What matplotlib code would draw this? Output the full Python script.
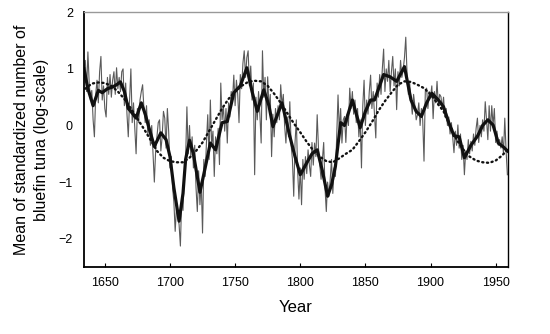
import matplotlib
matplotlib.use("Agg")
import matplotlib.pyplot as plt
import numpy as np

plt.rcParams['font.family'] = ['Liberation Sans', 'DejaVu Sans']

# annual values, one row per decade starting 1634
annual = [
    0.95, 1.15, 0.6, 1.3, 0.75, 0.45, 0.62, 0.1, -0.2, 0.55,
    0.8, 0.4, 0.95, 1.22, 0.45, 0.7, 0.3, 0.15, 0.85, 0.55,
    0.9, 0.5, 0.8, 0.95, 0.55, 1.02, 0.65, 0.85, 0.6, 0.95,
    1.0, 0.35, 0.75, 0.2, -0.2, 0.45, 1.0, 0.05, 0.4, -0.05,
    -0.5, 0.3, 0.05, 0.45, 0.6, 0.72, 0.3, 0.05, 0.35, -0.15,
    0.1, -0.35, 0.0, -0.5, -1.0, -0.45, -0.2, 0.05, 0.1, -0.45,
    -0.2, 0.25, 0.13, -0.4, 0.3, -0.1, -0.75, -0.55, -1.1, -1.35,
    -1.87, -1.45, -1.6, -1.75, -2.13, -1.3, -1.5, -0.85, -0.6, 0.33,
    -0.5, 0.0, -0.55, -0.2, -0.75, -0.35, -1.1, -1.52, -0.8, -1.4,
    -1.0, -1.9, -0.6, -0.9, -0.3, 0.19, -0.6, 0.45, -0.35, -0.1,
    -0.9, -0.2, -0.5, -0.05, -0.69, 0.75, 0.1, 0.35, -0.1, 0.3,
    -0.31, 0.4, 0.15, 0.6, 0.45, 0.89, 0.35, 0.8, 0.55, 0.05,
    0.9, 0.65, 1.1, 1.32, 0.85, 1.2, 1.32, 0.7, 1.05, 0.45,
    0.75, -0.87, 0.5, 0.1, 0.6, 0.2, -0.31, 1.32, 0.5, 0.85,
    0.1, 0.86, 0.3, 0.55, -0.55, 0.2, -0.2, 0.3, 0.05, 0.35,
    0.1, 0.72, 0.35, 0.55, 0.0, -0.31, 0.15, -0.2, 0.42, -0.35,
    -0.6, -1.25, -0.3, 0.1, -0.8, -1.3, -0.75, -1.4, -0.6, -0.95,
    -0.55, -0.85, -0.43, -0.7, -0.9, -0.3, -0.7, -0.31, -0.55, 0.19,
    -0.4, -0.7, -0.95, -0.6, -0.3, -1.1, -1.52, -1.0, -1.25, -0.95,
    -0.6, -1.2, -0.75, -0.9, -0.2, 0.54, -0.1, 0.3, -0.31, 0.1,
    0.16, -0.3, 0.2, 0.0, 0.66, 0.3, 0.6, 0.2, 0.45, 0.05,
    0.3, -0.2, 0.1, -0.75, 0.35, 0.8, 0.0, 0.45, 0.2, 0.6,
    0.89, 0.3, 0.6, 0.2, -0.22, 0.75, 0.5, 0.9, 0.55, 1.0,
    1.35, 0.6, 1.0, 0.78, 1.15, 0.6, 0.95, 1.22, 0.7, 1.0,
    0.28, 0.95, 0.7, 1.15, 0.85, 0.98, 1.2, 1.56, 0.9, 0.55,
    0.75, 0.45, 0.2, 0.55, 0.35, 0.1, 0.19, 0.4, 0.0, 0.3,
    0.1, -0.63, 0.6, 0.66, 0.3, 0.6, 0.5, 0.7, 0.12, 0.6,
    0.4, 0.78, 0.35, 0.55, 0.51, 0.3, 0.5, 0.15, 0.3, 0.0,
    0.15, -0.15, 0.05, -0.2, -0.48, -0.1, -0.35, 0.01, -0.4, -0.15,
    -0.6, -0.35, -0.87, -0.45, -0.6, -0.25, -0.5, -0.28, -0.45, -0.15,
    -0.35, -0.05, 0.13, -0.3, 0.0, -0.2, 0.1, -0.1, 0.42, 0.1,
    -0.25, 0.35, -0.1, 0.35, 0.0, 0.3, -0.3, -0.1, -0.35, -0.25,
    -0.4, -0.2, -0.5, 0.13, -0.45, -0.87,
]
years = np.arange(1634, 1634 + len(annual))

# smoothed series (key points)
smooth_years = [1634, 1637, 1641, 1645, 1648, 1652, 1656, 1659, 1662, 1665,
                1668, 1671, 1674, 1678, 1681, 1684, 1688, 1693, 1697, 1700,
                1703, 1707, 1710, 1712, 1715, 1718, 1723, 1727, 1731, 1735,
                1740, 1744, 1749, 1754, 1759, 1763, 1767, 1772, 1776, 1779,
                1786, 1792, 1796, 1800, 1805, 1809, 1813, 1817, 1821, 1824,
                1827, 1831, 1834, 1840, 1846, 1850, 1854, 1857, 1864, 1869,
                1874, 1880, 1885, 1889, 1893, 1897, 1901, 1906, 1910, 1914,
                1918, 1922, 1926, 1931, 1936, 1940, 1944, 1948, 1952, 1956, 1959]
smooth_vals = [1.0, 0.65, 0.35, 0.62, 0.58, 0.65, 0.68, 0.72, 0.77, 0.6,
               0.3, 0.22, 0.13, 0.4, 0.2, -0.05, -0.37, -0.13, -0.25, -0.55,
               -1.1, -1.69, -1.2, -0.6, -0.26, -0.5, -1.18, -0.75, -0.31, -0.43,
               0.05, 0.07, 0.58, 0.7, 1.02, 0.6, 0.25, 0.63, 0.35, -0.02,
               0.4, -0.19, -0.55, -0.87, -0.66, -0.5, -0.43, -0.8, -1.25, -1.05,
               -0.72, 0.05, 0.0, 0.45, -0.04, 0.25, 0.45, 0.45, 0.9, 0.86,
               0.78, 1.04, 0.45, 0.25, 0.16, 0.4, 0.57, 0.45, 0.33, 0.05,
               -0.18, -0.2, -0.57, -0.35, -0.19, 0.0, 0.1, 0.01, -0.31, -0.38, -0.45]

# fitted cycle (dotted)
fit_years = list(range(1635, 1961, 5))
fit_vals = [0.65, 0.74, 0.76, 0.75, 0.7, 0.6, 0.47, 0.3, 0.12, -0.06,
            -0.25, -0.45, -0.57, -0.63, -0.65, -0.65, -0.57, -0.45, -0.3, -0.1,
            0.1, 0.3, 0.47, 0.6, 0.7, 0.77, 0.79, 0.78, 0.7, 0.56,
            0.4, 0.22, 0.04, -0.12, -0.29, -0.44, -0.55, -0.63, -0.65, -0.58,
            -0.5, -0.43, -0.28, -0.12, 0.06, 0.26, 0.43, 0.58, 0.72, 0.78,
            0.77, 0.72, 0.66, 0.55, 0.4, 0.25, 0.0, -0.25, -0.42, -0.55,
            -0.62, -0.65, -0.66, -0.62, -0.53, -0.4]

fig = plt.figure(figsize=(5.5, 3.34), dpi=100)
ax = fig.add_axes([0.1527, 0.2006, 0.771, 0.7626])

ax.plot(years, annual, color='#5a5a5a', lw=0.8)
ax.plot(smooth_years, smooth_vals, color='#111111', lw=2.3, solid_joinstyle='round')
ax.plot(fit_years, fit_vals, color='#111111', lw=1.7, linestyle=(0, (0.5, 1.5)),
        dash_capstyle='round')

ax.set_xlim(1634, 1959.5)
ax.set_ylim(-2.5, 2)
ax.set_xticks([1650, 1700, 1750, 1800, 1850, 1900, 1950])
ax.set_yticks([-2, -1, 0, 1, 2])
ax.tick_params(direction='in', length=3, labelsize=9, pad=7)
ax.tick_params(axis='y', length=0, pad=8)

ax.spines['left'].set_linewidth(1.3)
ax.spines['bottom'].set_linewidth(1.3)
ax.spines['right'].set_linewidth(1.0)
ax.spines['top'].set_color('#999999')
ax.spines['top'].set_linewidth(1.0)

ax.set_xlabel('Year', fontsize=12, labelpad=8)
ax.set_ylabel('Mean of standardized number of\nbluefin tuna (log-scale)',
              fontsize=11.5, labelpad=7, linespacing=1.45)

fig.savefig('out.png', dpi=100)
